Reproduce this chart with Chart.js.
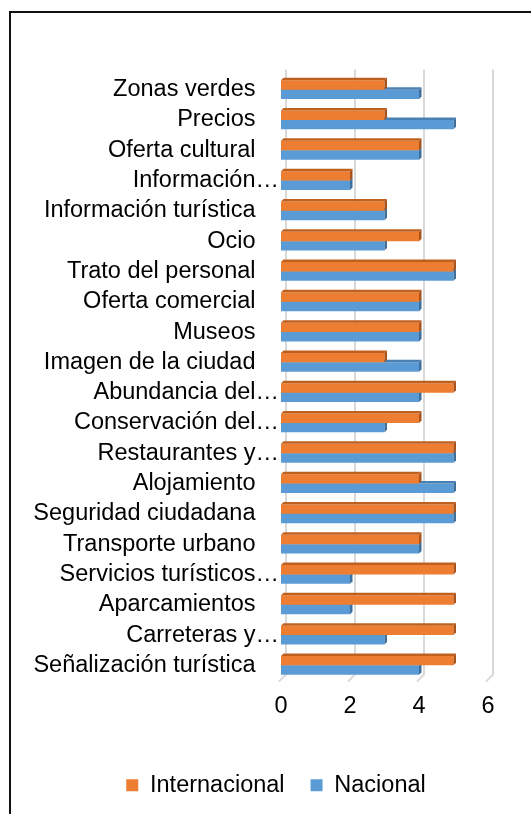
<!DOCTYPE html>
<html>
<head>
<meta charset="utf-8">
<script src="https://cdn.jsdelivr.net/npm/chart.js@4.4.1/dist/chart.umd.min.js"></script>
<style>
  html, body { margin: 0; padding: 0; background: #fff; width: 531px; height: 814px; overflow: hidden; }
  #frame { position: absolute; left: 9px; top: 11px; width: 640px; height: 900px; border: 2px solid #111; box-sizing: border-box; }
  #chart { position: absolute; left: 0; top: 0; }
</style>
</head>
<body>
<div id="frame"></div>
<canvas id="chart" width="560" height="814"></canvas>
<script>
// Satisfaction scores per aspect, international vs. domestic visitors
const categories = [
  'Zonas verdes', 'Precios', 'Oferta cultural', 'Información…', 'Información turística',
  'Ocio', 'Trato del personal', 'Oferta comercial', 'Museos', 'Imagen de la ciudad',
  'Abundancia del…', 'Conservación del…', 'Restaurantes y…', 'Alojamiento', 'Seguridad ciudadana',
  'Transporte urbano', 'Servicios turísticos…', 'Aparcamientos', 'Carreteras y…', 'Señalización turística'
];
const internacional = [3, 3, 4, 2, 3, 4, 5, 4, 4, 3, 5, 4, 5, 4, 5, 4, 5, 5, 5, 5];
const nacional      = [4, 5, 4, 2, 3, 3, 5, 4, 4, 4, 4, 3, 5, 5, 5, 4, 2, 2, 3, 4];
const xTickValues = [0, 2, 4, 6];

const FONT = { family: '"Liberation Sans", Arial, sans-serif', size: 23.5 };
const DEPTH = 2.5;

// Back-wall gridlines with a short floor edge, shifted for the 3-D look
const backGrid = {
  id: 'backGrid',
  beforeDatasetsDraw(chart) {
    const { ctx, chartArea, scales } = chart;
    ctx.save();
    ctx.strokeStyle = '#D9D9D9';
    ctx.lineWidth = 2;
    xTickValues.forEach(v => {
      const px = scales.x.getPixelForValue(v) + 5;
      ctx.beginPath();
      ctx.moveTo(px, chartArea.top - 5);
      ctx.lineTo(px, chartArea.bottom - 6);
      ctx.lineTo(px - 7, chartArea.bottom + 1);
      ctx.stroke();
    });
    ctx.restore();
  }
};

// Top and end faces of each bar
const barFaces = {
  id: 'barFaces',
  afterDatasetDraw(chart, args) {
    const { ctx } = chart;
    const ds = chart.data.datasets[args.index];
    ctx.save();
    args.meta.data.forEach(el => {
      const { x, y, base, height } = el.getProps(['x', 'y', 'base', 'height'], true);
      const top = y - height / 2, bottom = y + height / 2;
      ctx.fillStyle = ds.topColor;
      ctx.beginPath();
      ctx.moveTo(base, top);
      ctx.lineTo(base + DEPTH, top - DEPTH);
      ctx.lineTo(x + DEPTH, top - DEPTH);
      ctx.lineTo(x, top);
      ctx.closePath();
      ctx.fill();
      ctx.fillStyle = ds.sideColor;
      ctx.beginPath();
      ctx.moveTo(x, top);
      ctx.lineTo(x + DEPTH, top - DEPTH);
      ctx.lineTo(x + DEPTH, bottom - DEPTH);
      ctx.lineTo(x, bottom);
      ctx.closePath();
      ctx.fill();
    });
    ctx.restore();
  }
};

const truncated = s => s.endsWith('…');

new Chart(document.getElementById('chart'), {
  type: 'bar',
  data: {
    labels: categories,
    datasets: [
      { label: 'Internacional', data: internacional, backgroundColor: '#ED7D31', topColor: '#C0601F', sideColor: '#A9521A', borderWidth: 0 },
      { label: 'Nacional', data: nacional, backgroundColor: '#5B9BD5', topColor: '#4A80B4', sideColor: '#3E6E9C', borderWidth: 0 }
    ]
  },
  options: {
    indexAxis: 'y',
    responsive: false,
    animation: false,
    devicePixelRatio: 1,
    layout: { padding: { left: 0, right: 8, top: 74.5, bottom: 7 } },
    datasets: { bar: { barPercentage: 1, categoryPercentage: 0.62 } },
    scales: {
      x: {
        min: 0, max: 6,
        afterBuildTicks(scale) { scale.ticks = xTickValues.map(v => ({ value: v })); },
        afterFit(scale) { scale.height = 67; },
        grid: { display: false, drawTicks: false },
        border: { display: false },
        ticks: { font: FONT, color: '#000', padding: 12 }
      },
      y: {
        afterFit(scale) { scale.width = 281; },
        grid: { display: false, drawTicks: false },
        border: { display: false },
        ticks: {
          autoSkip: false,
          font: FONT,
          color: '#000',
          padding: 2,
          callback(value) {
            const s = categories[value];
            return truncated(s) ? s : s + '\u2003';
          }
        }
      },
      // empty right-hand margin of the plot
      yMargin: {
        type: 'category',
        position: 'right',
        afterFit(scale) { scale.width = 64; },
        grid: { display: false, drawTicks: false },
        border: { display: false },
        ticks: { display: false }
      }
    },
    plugins: {
      legend: {
        position: 'bottom',
        labels: { font: FONT, color: '#000', boxWidth: 12, boxHeight: 12, padding: 26 }
      },
      tooltip: { enabled: false }
    }
  },
  plugins: [backGrid, barFaces]
});
</script>
</body>
</html>
